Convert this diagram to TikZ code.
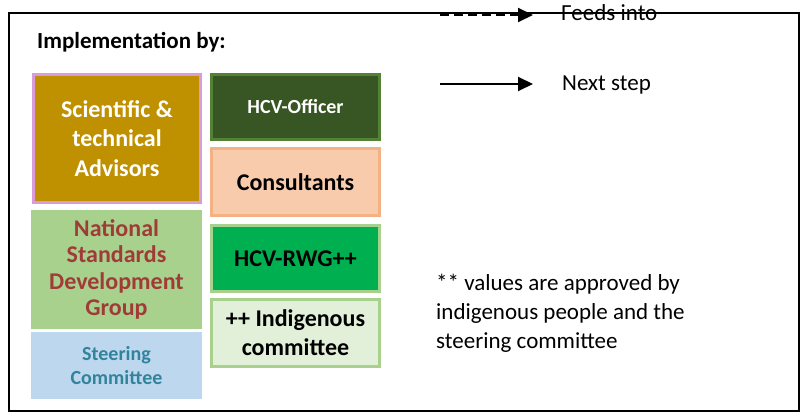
\documentclass[tikz,border=0pt]{standalone}
\usepackage{fontspec}
\setmainfont{Carlito}
\usetikzlibrary{arrows.meta}
\definecolor{gold}{HTML}{BF9000}
\definecolor{pinkb}{HTML}{DA9BD9}
\definecolor{dkgreen}{HTML}{375623}
\definecolor{dkgreenb}{HTML}{548235}
\definecolor{peach}{HTML}{F8CBAD}
\definecolor{peachb}{HTML}{F4B183}
\definecolor{ltgreen}{HTML}{A9D18E}
\definecolor{brick}{HTML}{A03C38}
\definecolor{ltblue}{HTML}{BDD7EE}
\definecolor{teal}{HTML}{31849B}
\definecolor{green}{HTML}{00B050}
\definecolor{palegreen}{HTML}{E2F0D9}
\tikzset{
  box/.style={rectangle, inner sep=0pt, align=center, font=\bfseries\fontsize{24}{29.5}\selectfont},
  bordered/.style={box, line width=3pt},
  legendtext/.style={inner sep=0pt, font=\fontsize{23}{28}\selectfont},
  legarrow/.style={line width=2pt, -{Triangle[length=15pt,width=14pt]}},
}
\begin{document}
\begin{tikzpicture}[x=1pt,y=-1pt]
\useasboundingbox (0,0) rectangle (803,414);
% frame
\draw[line width=2pt] (9,13) rectangle (799,411);
% heading
\node[inner sep=0pt, anchor=base west, font=\bfseries\fontsize{23}{28}\selectfont] (head) at (37,49) {Implementation by:};
% boxes
\node[bordered, draw=pinkb, fill=gold, text=white, minimum width=167pt, minimum height=128pt] (sci) at (117,138.5) {Scientific \&\\technical\\Advisors};
\node[bordered, draw=dkgreenb, fill=dkgreen, text=white, minimum width=168pt, minimum height=65pt, font=\bfseries\fontsize{20}{24}\selectfont] (off) at (295.5,107) {HCV-Officer};
\node[bordered, draw=peachb, fill=peach, text=black, minimum width=168pt, minimum height=67pt] (cons) at (295.5,182) {Consultants};
\node[box, fill=ltgreen, text=brick, minimum width=171pt, minimum height=119pt, font=\bfseries\fontsize{24}{26.3}\selectfont] (nsdg) at (116.5,269.5) {National\\Standards\\Development\\Group};
\node[box, fill=ltblue, text=teal, minimum width=171pt, minimum height=67pt, font=\bfseries\fontsize{20}{24}\selectfont] (steer) at (116.5,365.5) {Steering\\Committee};
\node[bordered, draw=ltgreen, fill=green, text=black, minimum width=168pt, minimum height=66pt] (rwg) at (295.5,258.5) {HCV-RWG++};
\node[bordered, draw=ltgreen, fill=palegreen, text=black, minimum width=168pt, minimum height=67pt, font=\bfseries\fontsize{24}{29}\selectfont] (indig) at (295.5,333) {++ Indigenous\\committee};
% legend
\coordinate (fa) at (440,15);
\coordinate (fb) at (533,15);
\coordinate (na) at (440,84);
\coordinate (nb) at (533,84);
\draw[legarrow, dash pattern=on 9pt off 5pt] (fa) -- (fb);
\draw[legarrow] (na) -- (nb);
\node[legendtext, anchor=base west] (feeds) at (561,21) {Feeds into};
\node[legendtext, anchor=base west] (next) at (562,91) {Next step};
% note
\node[inner sep=0pt, anchor=west, align=left, font=\fontsize{23}{29}\selectfont] (note) at (436,313) {** values are approved by\\indigenous people and the\\steering committee};
\end{tikzpicture}
\end{document}
